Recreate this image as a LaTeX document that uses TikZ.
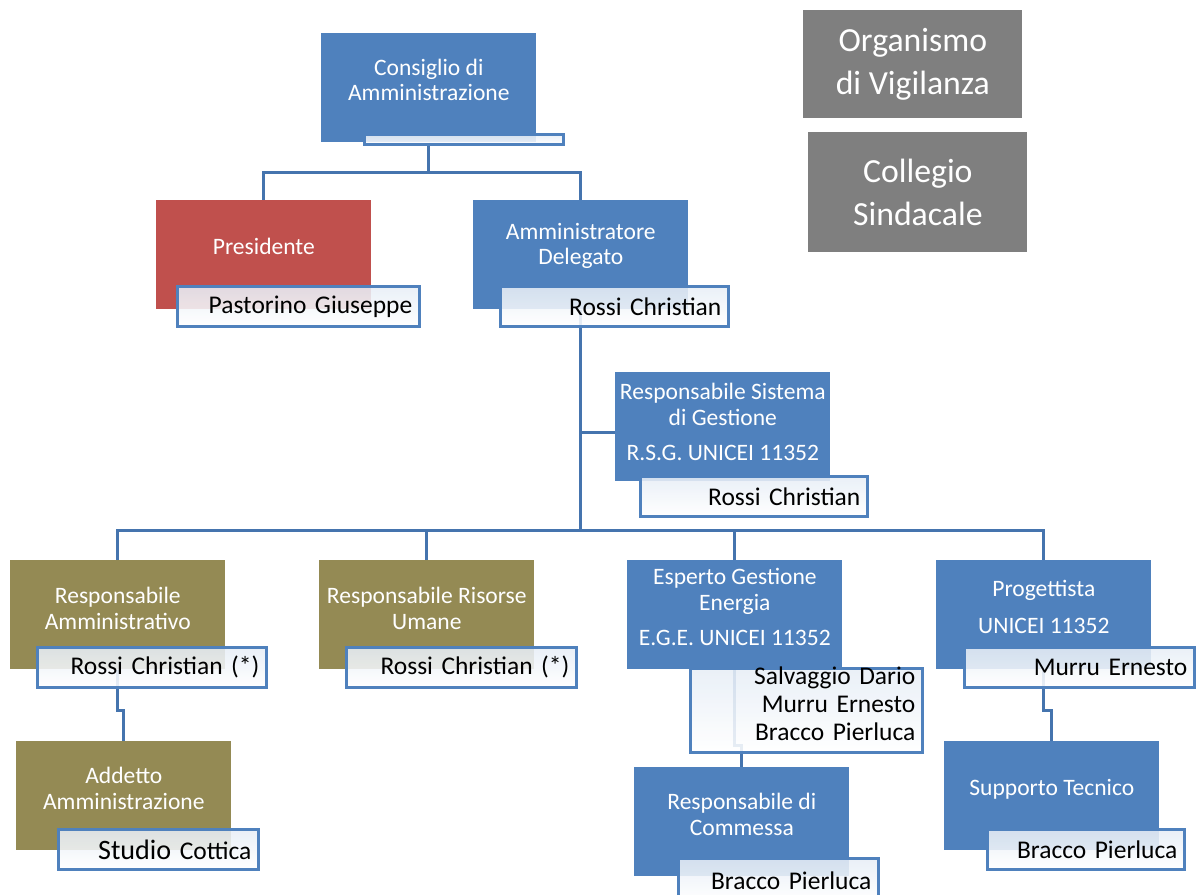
\documentclass[tikz,border=0pt]{standalone}
\usepackage{fontspec}
\setmainfont{Carlito}
\usetikzlibrary{calc,backgrounds}
\definecolor{cblue}{HTML}{4F81BD}
\definecolor{cred}{HTML}{C0504D}
\definecolor{colive}{HTML}{948A54}
\definecolor{cgray}{HTML}{7F7F7F}
\definecolor{cline}{HTML}{4574AE}
\begin{document}
\begin{tikzpicture}[x=0.02cm, y=-0.02cm,
	unit/.style={rectangle, inner sep=0pt, anchor=north west, minimum width=4.3cm, minimum height=2.18cm},
	blue unit/.style={unit, fill=cblue},
	red unit/.style={unit, fill=cred},
	olive unit/.style={unit, fill=colive},
	gray unit/.style={rectangle, fill=cgray, text=white, align=center, anchor=north west, inner sep=0pt, minimum width=4.38cm, font=\fontsize{19.2}{24.5}\selectfont},
	title/.style={text=white, align=center, font=\fontsize{13.4}{14.7}\selectfont},
	name box/.style={draw=cblue, line width=1.6pt, top color=cblue!14, bottom color=white, fill opacity=0.88, text opacity=1, anchor=north west, inner xsep=0.14cm, inner ysep=0pt, minimum height=0.8cm, align=right, text width=#1, font=\fontsize{14.5}{16}\selectfont},
	link/.style={draw=cline, line width=1.7pt}]
	\useasboundingbox (0,0) rectangle (1197,895);
	% units
	\node[blue unit] (cda) at (321,33) {};
	\node[red unit] (pres) at (156,200) {};
	\node[blue unit] (ad) at (473,200) {};
	\node[blue unit] (rsg) at (615,372) {};
	\node[olive unit] (ra) at (10,560) {};
	\node[olive unit] (rru) at (319,560) {};
	\node[blue unit] (ege) at (627,560) {};
	\node[blue unit] (prog) at (936,560) {};
	\node[olive unit] (addamm) at (16,741) {};
	\node[blue unit] (rc) at (634,767) {};
	\node[blue unit] (st) at (944,741) {};
	% titles
	\node[title] (cda-t) at ($(cda.north)+(0,47)$) {Consiglio di\\Amministrazione};
	\node[title] (pres-t) at ($(pres.north)+(0,46)$) {Presidente};
	\node[title] (ad-t) at ($(ad.north)+(0,46)$) {Amministratore\\Delegato};
	\node[title] (rsg-t) at ($(rsg.north)+(0,50)$) {Responsabile Sistema\\di Gestione\\[5.7pt]R.S.G. UNICEI 11352};
	\node[title] (ra-t) at ($(ra.north)+(0,48)$) {Responsabile\\Amministrativo};
	\node[title] (rru-t) at ($(rru.north)+(0,48)$) {Responsabile Risorse\\Umane};
	\node[title] (ege-t) at ($(ege.north)+(0,47)$) {Esperto Gestione\\Energia\\[5.7pt]E.G.E. UNICEI 11352};
	\node[title] (prog-t) at ($(prog.north)+(0,47)$) {Progettista\\[6.3pt]UNICEI 11352};
	\node[title] (addamm-t) at ($(addamm.north)+(0,47)$) {Addetto\\Amministrazione};
	\node[title] (rc-t) at ($(rc.north)+(0,47)$) {Responsabile di\\Commessa};
	\node[title] (st-t) at ($(st.north)+(0,48)$) {Supporto Tecnico};
	% names
	\node[name box=3.7cm, minimum height=0.2cm] (cda-n) at (363,133) {};
	\node[name box=4.56cm] (pres-n) at (176,285) {Pastorino Giuseppe};
	\node[name box=4.28cm] (ad-n) at (499,285) {Rossi Christian};
	\node[name box=4.26cm] (rsg-n) at (639,475) {Rossi Christian};
	\node[name box=4.3cm] (ra-n) at (36,646) {Rossi Christian (*)};
	\node[name box=4.32cm] (rru-n) at (345,646) {Rossi Christian (*)};
	\node[name box=4.36cm, text height=9pt, text depth=39pt] (ege-n) at (689,667) {Salvaggio Dario\\Murru Ernesto\\Bracco Pierluca};
	\node[name box=4.32cm] (prog-n) at (963,646) {Murru Ernesto};
	\node[name box=3.72cm] (addamm-n) at (57,828) {{\fontsize{16}{16}\selectfont Studio} Cottica};
	\node[name box=3.72cm, minimum height=0.88cm] (rc-n) at (677,857) {Bracco Pierluca};
	\node[name box=3.66cm] (st-n) at (986,828) {Bracco Pierluca};
	% control bodies
	\node[gray unit, minimum height=2.16cm] (odv) at (803,10) {Organismo\\di Vigilanza};
	\node[gray unit, minimum height=2.4cm] (cs) at (808,132) {Collegio\\Sindacale};
	% connectors
	\begin{pgfonlayer}{background}
		\draw[link] (cda.south) -- ++(0,30) -| (pres.north);
		\draw[link] (cda.south) -- ++(0,30) -| (ad.north);
		\draw[link] (ad.south) -- ++(0,221) -| (ra.north);
		\draw[link] (ad.south) -- ++(0,221) -| (rru.north);
		\draw[link] (ad.south) -- ++(0,221) -| (ege.north);
		\draw[link] (ad.south) -- ++(0,221) -| (prog.north);
		\draw[link] ($(ad.south |- rsg.west)+(0,6)$) -- ($(rsg.west)+(0,6)$);
		\draw[link] (ra.south) -- ++(0,41) -| (addamm.north);
		\draw[link] (ege.south) -- ++(0,76) -| (rc.north);
		\draw[link] (prog.south) -- ++(0,41) -| (st.north);
	\end{pgfonlayer}
\end{tikzpicture}
\end{document}
